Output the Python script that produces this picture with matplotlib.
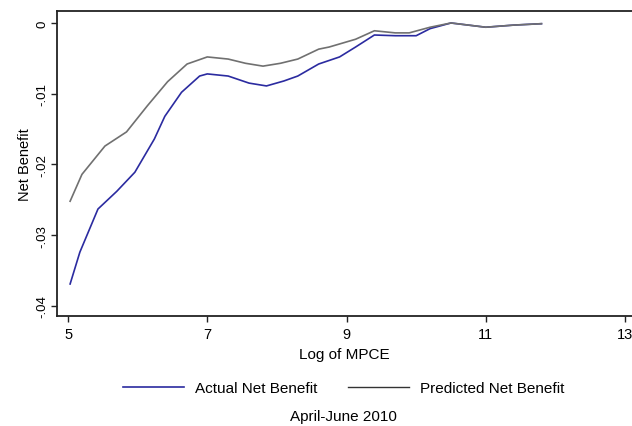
import matplotlib.pyplot as plt

# Net benefit by log MPCE
actual_x = [5.03, 5.17, 5.43, 5.70, 5.96, 6.24, 6.39, 6.63, 6.89, 7.0, 7.3, 7.6, 7.85,
            8.1, 8.3, 8.6, 8.9, 9.13, 9.4, 9.7, 10.0, 10.2, 10.5, 10.75, 11.0, 11.4, 11.8]
actual_y = [-0.0369, -0.0324, -0.0263, -0.0238, -0.0211, -0.0164, -0.0132, -0.0098, -0.0075,
            -0.0072, -0.0075, -0.0085, -0.0089, -0.0082, -0.0075, -0.0058, -0.0048, -0.0034,
            -0.0017, -0.0018, -0.0018, -0.0008, 0.0, -0.0003, -0.0006, -0.0003, -0.0001]

pred_x = [5.03, 5.2, 5.53, 5.84, 6.14, 6.43, 6.71, 7.0, 7.3, 7.55, 7.8, 8.05, 8.3, 8.6,
          8.75, 9.13, 9.4, 9.7, 9.9, 10.2, 10.5, 10.75, 11.0, 11.4, 11.8]
pred_y = [-0.0252, -0.0214, -0.0174, -0.0154, -0.0117, -0.0083, -0.0058, -0.0048, -0.0051,
          -0.0057, -0.0061, -0.0057, -0.0051, -0.0037, -0.0034, -0.0023, -0.0011, -0.0014,
          -0.0014, -0.0006, 0.0, -0.0003, -0.0006, -0.0003, -0.0001]

x_ticks = [5, 7, 9, 11, 13]
y_ticks = [0, -0.01, -0.02, -0.03, -0.04]
y_labels = ["0", "-.01", "-.02", "-.03", "-.04"]

plt.rcParams['font.family'] = ['Liberation Sans', 'DejaVu Sans']

fig = plt.figure(figsize=(6.32, 4.27), dpi=100)
ax = fig.add_axes([0.090, 0.258, 0.910, 0.714])

ax.plot(actual_x, actual_y, color='#2b2ba0', lw=1.2, label='Actual Net Benefit')
ax.plot(pred_x, pred_y, color='#707070', lw=1.2, label='Predicted Net Benefit')

ax.set_xlim(4.84, 13.1)
ax.set_ylim(-0.0414, 0.0017)
ax.set_xticks(x_ticks)
ax.set_yticks(y_ticks)
ax.set_yticklabels(y_labels, rotation=90, va='center')
ax.tick_params(labelsize=9.5, length=4, width=1, color='#222222', pad=2)
ax.tick_params(axis='x', labelsize=10.5, pad=4)
ax.spines['right'].set_visible(False)
for s in ['left', 'bottom', 'top']:
    ax.spines[s].set_linewidth(1.3)
    ax.spines[s].set_color('#222222')

ax.set_xlabel('Log of MPCE', fontsize=11, labelpad=4)
ax.set_ylabel('Net Benefit', fontsize=10.5, labelpad=3)

handles, labels = ax.get_legend_handles_labels()
handles[1] = plt.Line2D([], [], color='#333333', lw=1.0)
fig.legend(handles, labels, loc='center', bbox_to_anchor=(0.544, 0.088), ncol=2,
           frameon=False, fontsize=11, handlelength=4.0, handletextpad=0.7,
           columnspacing=2.0)
fig.text(0.544, 0.024, 'April-June 2010', ha='center', va='center', fontsize=11)

fig.savefig('out.png', dpi=100)
